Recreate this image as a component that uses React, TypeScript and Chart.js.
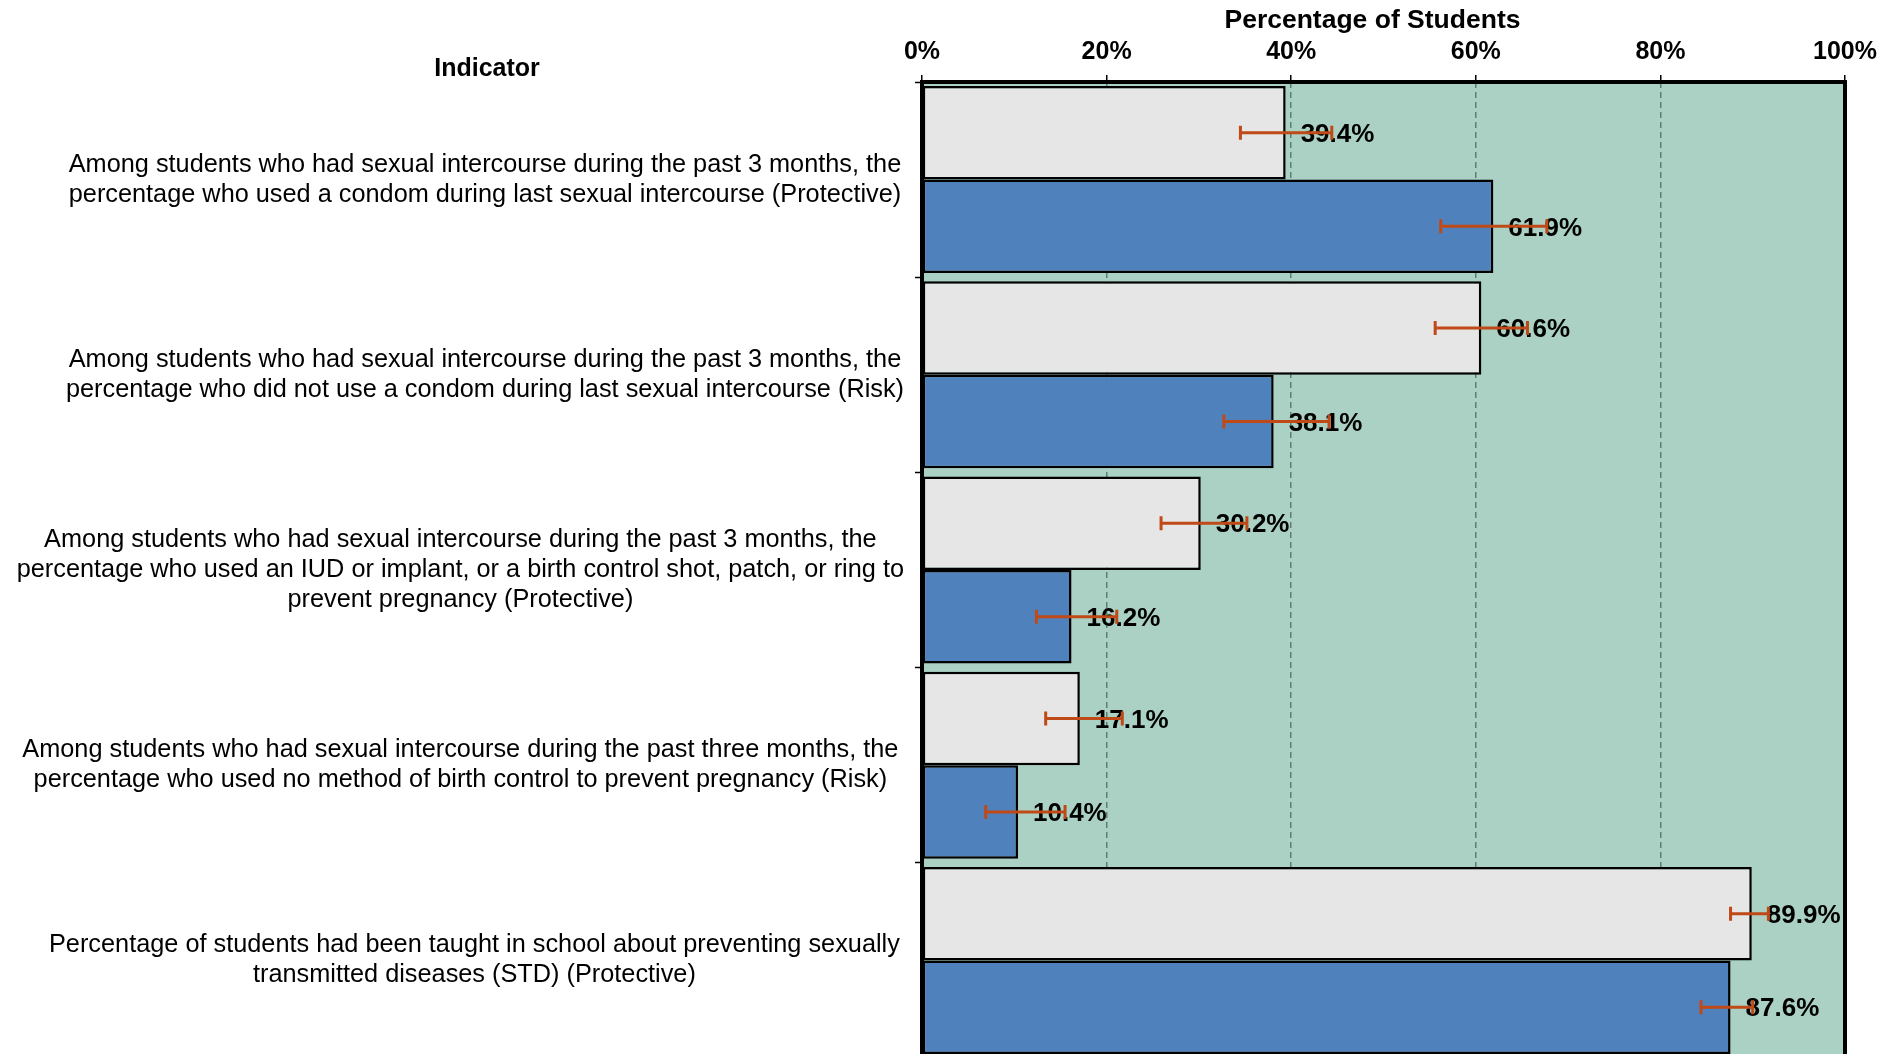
import React, { useEffect, useRef } from "react";
import { Chart, registerables } from "chart.js";

Chart.register(...registerables);

const categories: string[][] = [
  ["Among students who had sexual intercourse during the past 3 months, the", "percentage who used a condom during last sexual intercourse (Protective)"],
  ["Among students who had sexual intercourse during the past 3 months, the", "percentage who did not use a condom during last sexual intercourse (Risk)"],
  ["Among students who had sexual intercourse during the past 3 months, the", "percentage who used an IUD or implant, or a birth control shot, patch, or ring to", "prevent pregnancy (Protective)"],
  ["Among students who had sexual intercourse during the past three months, the", "percentage who used no method of birth control to prevent pregnancy (Risk)"],
  ["Percentage of students had been taught in school about preventing sexually", "transmitted diseases (STD) (Protective)"],
];

const grayValues = [39.4, 60.6, 30.2, 17.1, 89.9];
const grayLower = [34.5, 55.6, 25.9, 13.4, 87.6];
const grayUpper = [44.4, 65.6, 35.2, 21.7, 91.7];

const blueValues = [61.9, 38.1, 16.2, 10.4, 87.6];
const blueLower = [56.2, 32.7, 12.4, 6.9, 84.4];
const blueUpper = [67.7, 44.1, 21.1, 15.5, 90.0];

const xTicks = [0, 20, 40, 60, 80, 100];

const FONT = "'Liberation Sans', Arial, sans-serif";

// visual nudge (in spaces) of each category label block, to mimic the source layout
const LABEL_NUDGE = [7, 7, 0, 0, 4];

export default function App() {
  const ref = useRef<HTMLCanvasElement | null>(null);

  useEffect(() => {
    if (!ref.current) return;

    const lowers = [grayLower, blueLower];
    const uppers = [grayUpper, blueUpper];

    const decor = {
      id: "decor",
      beforeDraw(chart: any) {
        const { ctx, chartArea: a } = chart;
        ctx.save();
        ctx.fillStyle = "#aad1c4";
        ctx.fillRect(a.left, a.top, a.right - a.left, a.bottom - a.top);
        ctx.restore();
      },
      afterDatasetsDraw(chart: any) {
        const { ctx } = chart;
        const xs = chart.scales.x;
        chart.data.datasets.forEach((ds: any, di: number) => {
          const meta = chart.getDatasetMeta(di);
          meta.data.forEach((bar: any, i: number) => {
            const v = ds.data[i];
            ctx.save();
            ctx.font = `bold 26px ${FONT}`;
            ctx.fillStyle = "#000";
            ctx.textAlign = "left";
            ctx.textBaseline = "middle";
            ctx.fillText(v.toFixed(1) + "%", xs.getPixelForValue(v) + 15, bar.y + 2);
            ctx.restore();
          });
        });
        chart.data.datasets.forEach((ds: any, di: number) => {
          const meta = chart.getDatasetMeta(di);
          meta.data.forEach((bar: any, i: number) => {
            const x1 = xs.getPixelForValue(lowers[di][i]);
            const x2 = xs.getPixelForValue(uppers[di][i]);
            const y = bar.y;
            ctx.save();
            ctx.strokeStyle = "#bf4a17";
            ctx.lineWidth = 3;
            ctx.beginPath();
            ctx.moveTo(x1, y);
            ctx.lineTo(x2, y);
            ctx.moveTo(x1, y - 7);
            ctx.lineTo(x1, y + 7);
            ctx.moveTo(x2, y - 7);
            ctx.lineTo(x2, y + 7);
            ctx.stroke();
            ctx.restore();
          });
        });
      },
      afterDraw(chart: any) {
        const { ctx, chartArea: a } = chart;
        ctx.save();
        ctx.strokeStyle = "#000";
        ctx.lineWidth = 4;
        ctx.beginPath();
        ctx.moveTo(a.left, a.bottom + 4);
        ctx.lineTo(a.left, a.top);
        ctx.lineTo(a.right, a.top);
        ctx.lineTo(a.right, a.bottom + 4);
        ctx.stroke();
        ctx.font = `bold 25px ${FONT}`;
        ctx.fillStyle = "#000";
        ctx.textAlign = "center";
        ctx.textBaseline = "middle";
        ctx.fillText("Indicator", 487, 69);
        ctx.restore();
      },
    };

    const chart = new Chart(ref.current, {
      type: "bar",
      data: {
        labels: categories,
        datasets: [
          {
            label: "Series 1",
            data: grayValues,
            backgroundColor: "#e6e6e6",
            borderColor: "#000",
            borderWidth: 2.5,
            borderSkipped: false,
            categoryPercentage: 0.958,
            barPercentage: 1,
          },
          {
            label: "Series 2",
            data: blueValues,
            backgroundColor: "#4f81bd",
            borderColor: "#000",
            borderWidth: 2.5,
            borderSkipped: false,
            categoryPercentage: 0.958,
            barPercentage: 1,
          },
        ],
      },
      options: {
        indexAxis: "y",
        responsive: false,
        animation: false,
        layout: { padding: { left: 0, right: 51, top: 0, bottom: 0 } },
        plugins: {
          legend: { display: false },
          tooltip: { enabled: false },
          title: { display: false },
        },
        scales: {
          x: {
            position: "top",
            min: 0,
            max: 100,
            afterBuildTicks(scale: any) {
              scale.ticks = xTicks.map((v) => ({ value: v }));
            },
            afterFit(scale: any) {
              scale.height = 82;
            },
            ticks: {
              color: "#000",
              font: { family: FONT, size: 25, weight: "bold" },
              padding: 8,
              callback: (v: any) => v + "%",
            },
            grid: {
              color: "#5f7d73",
              lineWidth: 1.5,
              tickColor: "#000",
              tickLength: 7,
              tickWidth: 1.5,
              tickBorderDash: [],
            },
            border: { display: false, dash: [6, 4] },
            title: {
              display: true,
              text: "Percentage of Students   ",
              color: "#000",
              font: { family: FONT, size: 26.5, weight: "bold" },
              padding: { top: 5, bottom: 0 },
            },
          },
          y: {
            afterFit(scale: any) {
              scale.width = 922;
              scale.paddingTop = 0;
              scale.paddingBottom = 0;
            },
            ticks: {
              color: "#000",
              font: { family: FONT, size: 25.3, lineHeight: "30px" },
              crossAlign: "center",
              padding: 11,
              autoSkip: false,
              callback: (_v: any, i: number) =>
                categories[i].map((line) => " ".repeat(LABEL_NUDGE[i]) + line),
            },
            grid: {
              offset: true,
              drawOnChartArea: false,
              color: "#000",
              tickColor: "#000",
              tickLength: 7,
              tickWidth: 1.5,
            },
            border: { display: false },
          },
        },
      },
      plugins: [decor],
    } as any);

    return () => chart.destroy();
  }, []);

  return (
    <div style={{ position: "fixed", left: 0, top: 0, width: 1896, height: 1054, overflow: "hidden", background: "#fff" }}>
      <canvas ref={ref} width={1896} height={1058} style={{ display: "block" }} />
    </div>
  );
}
